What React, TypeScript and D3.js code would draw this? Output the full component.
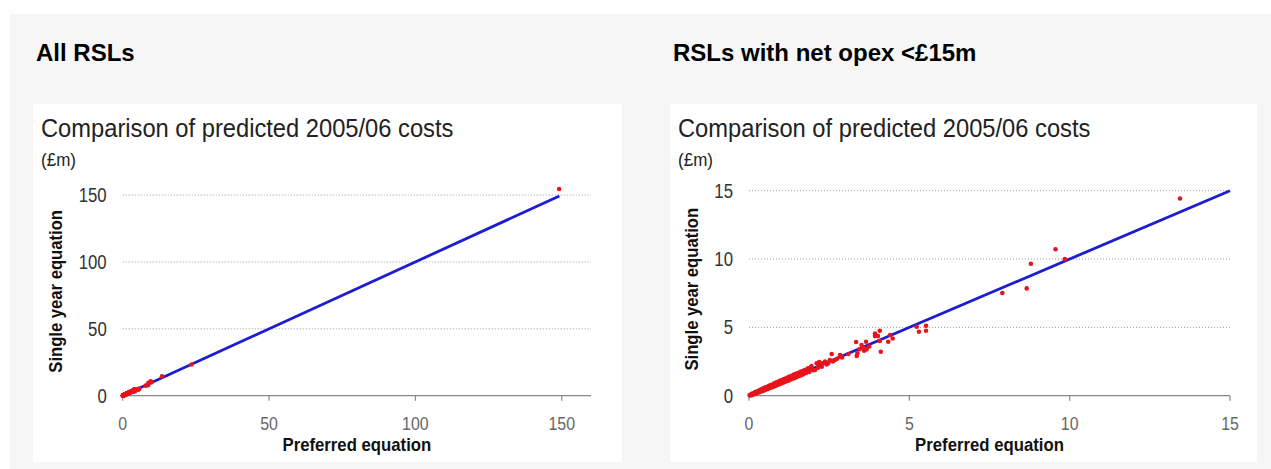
import React from "react";
import * as d3 from "d3";

// Predicted 2005/06 costs (£m) per RSL: preferred equation vs single year equation
const preferred = [
  0.02, 0.05, 0.08, 0.1, 0.12, 0.15, 0.18, 0.2, 0.22, 0.25, 0.27, 0.3, 0.32, 0.35, 0.37,
  0.4, 0.42, 0.45, 0.47, 0.5, 0.52, 0.55, 0.57, 0.6, 0.62, 0.65, 0.68, 0.7, 0.72, 0.75,
  0.78, 0.8, 0.83, 0.85, 0.88, 0.9, 0.93, 0.95, 0.98, 1.0, 1.03, 1.06, 1.08, 1.1, 1.13,
  1.16, 1.2, 1.23, 1.26, 1.3, 1.33, 1.36, 1.4, 1.43, 1.46, 1.5, 1.53, 1.56, 1.6, 1.63,
  1.67, 1.7, 1.74, 1.78, 1.82, 1.85, 1.88, 1.92, 1.95, 2.0, 2.06, 2.11, 2.15, 2.19, 2.21,
  2.27, 2.29, 2.37, 2.42, 2.47, 2.52, 2.58, 2.62, 2.68, 2.75, 2.84, 2.9, 3.1, 3.34, 3.36,
  3.38, 3.45, 3.51, 3.56, 3.59, 3.65, 3.67, 3.75, 3.93, 3.93, 4.02, 4.08, 4.08, 4.11, 4.34,
  4.4, 4.48, 5.23, 5.3, 5.52, 5.52, 7.9, 8.66, 8.79, 9.56, 9.85, 13.44, 23.5, 149.1,
];
const singleYear = [
  0.04, 0.02, 0.13, 0.06, 0.16, 0.1, 0.24, 0.14, 0.28, 0.19, 0.33, 0.24, 0.4, 0.29, 0.45,
  0.33, 0.5, 0.37, 0.56, 0.42, 0.62, 0.47, 0.66, 0.5, 0.72, 0.56, 0.78, 0.6, 0.8, 0.66,
  0.88, 0.7, 0.94, 0.75, 0.99, 0.8, 1.04, 0.85, 1.1, 0.9, 1.15, 0.95, 1.2, 1.0, 1.25,
  1.05, 1.33, 1.1, 1.4, 1.18, 1.45, 1.24, 1.55, 1.3, 1.6, 1.38, 1.66, 1.44, 1.74, 1.5,
  1.8, 1.58, 1.88, 1.66, 1.96, 2.0, 1.74, 2.06, 2.17, 1.86, 1.88, 2.37, 2.05, 2.46, 2.3,
  2.12, 2.37, 2.49, 2.28, 2.37, 2.6, 3.05, 2.5, 2.61, 2.7, 2.98, 2.8, 3.05, 3.93, 2.9,
  3.1, 3.4, 3.71, 3.54, 3.29, 3.95, 3.39, 3.6, 4.36, 4.55, 4.36, 4.75, 4.0, 3.22, 3.95,
  4.44, 4.19, 5.04, 4.68, 5.12, 4.75, 7.51, 7.85, 9.65, 10.72, 9.99, 14.43, 23.3, 154.5,
];

// Fitted line extents (£m) and axis ticks for each panel
const fitAll = [0, 149.2];
const fitSmall = [0, 15];
const ticksAll = [0, 50, 100, 150];
const ticksSmall = [0, 5, 10, 15];
const smallLimit = 15;

const headers = ["All RSLs", "RSLs with net opex <£15m"];
const chartTitle = "Comparison of predicted 2005/06 costs";
const unitLabel = "(£m)";
const xTitle = "Preferred equation";
const yTitle = "Single year equation";

const FONT = "'Liberation Sans', Arial, Helvetica, sans-serif";

// Text drawn slightly condensed, as the chart's narrow typeface
function NarrowText(props: {
  x: number;
  y: number;
  sx: number;
  size: number;
  anchor?: string;
  weight?: string;
  fill: string;
  rotate?: number;
  dy?: string;
  children: React.ReactNode;
}) {
  const rot = props.rotate ? ` rotate(${props.rotate})` : "";
  return (
    <text
      transform={`translate(${props.x},${props.y})${rot} scale(${props.sx},1)`}
      textAnchor={props.anchor || "start"}
      fontFamily={FONT}
      fontSize={props.size}
      fontWeight={props.weight || "normal"}
      fill={props.fill}
      dy={props.dy}
    >
      {props.children}
    </text>
  );
}

type PanelProps = {
  panelX: number;
  panelW: number;
  header: string;
  plotLeft: number;
  plotRight: number;
  xMax: number;
  yTop: number;
  ticks: number[];
  fit: number[];
  points: { x: number; y: number }[];
  yTitleX: number;
};

function Panel(p: PanelProps) {
  const y0 = 395.7;
  const x = d3.scaleLinear().domain([0, p.xMax]).range([p.plotLeft, p.plotRight]);
  const yMaxTick = p.ticks[p.ticks.length - 1];
  const y = d3.scaleLinear().domain([0, yMaxTick]).range([y0, p.yTop]);
  const line = d3
    .line<number>()
    .x((d) => x(d))
    .y((d) => y(d));
  const textLeft = p.panelX + 8;
  return (
    <g>
      <rect x={p.panelX} y={104} width={p.panelW} height={358} fill="#ffffff" />
      <text x={p.panelX + 3} y={60.5} fontFamily={FONT} fontWeight="bold" fontSize={24} fill="#000">
        {p.header}
      </text>
      <NarrowText x={textLeft} y={136.5} sx={0.93} size={25.5} fill="#222">
        {chartTitle}
      </NarrowText>
      <NarrowText x={textLeft} y={166} sx={0.92} size={18.5} fill="#222">
        {unitLabel}
      </NarrowText>
      {/* dotted gridlines */}
      {p.ticks
        .filter((t) => t > 0)
        .map((t) => (
          <line
            key={"g" + t}
            x1={p.plotLeft}
            x2={p.plotRight}
            y1={y(t)}
            y2={y(t)}
            stroke="#9a9a9a"
            strokeWidth={1}
            strokeDasharray="1,2"
          />
        ))}
      {/* y tick labels */}
      {p.ticks.map((t) => (
        <NarrowText
          key={"yl" + t}
          x={p.plotLeft - 16}
          y={y(t)}
          dy="0.36em"
          sx={0.86}
          size={19.5}
          anchor="end"
          fill="#333"
        >
          {t}
        </NarrowText>
      ))}
      {/* x axis */}
      <line x1={p.plotLeft} x2={p.plotRight} y1={y0} y2={y0} stroke="#888" strokeWidth={1.2} />
      {p.ticks.map((t) => (
        <g key={"xt" + t}>
          <line x1={x(t)} x2={x(t)} y1={y0} y2={y0 + 5} stroke="#888" strokeWidth={1.2} />
          <NarrowText x={x(t)} y={430} sx={0.86} size={18.5} anchor="middle" fill="#666">
            {t}
          </NarrowText>
        </g>
      ))}
      <NarrowText
        x={(p.plotLeft + p.plotRight) / 2}
        y={451}
        sx={0.93}
        size={18}
        anchor="middle"
        weight="bold"
        fill="#111"
      >
        {xTitle}
      </NarrowText>
      <NarrowText
        x={p.yTitleX}
        y={(y0 + p.yTop) / 2 - 4}
        rotate={-90}
        sx={0.9}
        size={18.5}
        anchor="middle"
        weight="bold"
        fill="#111"
      >
        {yTitle}
      </NarrowText>
      {/* fitted line */}
      <path d={line(p.fit) || ""} stroke="#1c1cd0" strokeWidth={2.8} fill="none" />
      {/* RSL points */}
      {p.points.map((d, i) => (
        <circle key={i} cx={x(d.x)} cy={y(d.y)} r={2.3} fill="#e8141c" />
      ))}
    </g>
  );
}

export default function App() {
  const all = preferred.map((v, i) => ({ x: v, y: singleYear[i] }));
  const small = all.filter((d) => d.x < smallLimit);
  return (
    <div style={{ position: "absolute", left: 0, top: 0 }}>
      <svg width={1271} height={469} style={{ display: "block" }}>
        <rect x={0} y={0} width={1271} height={469} fill="#ffffff" />
        <rect x={10} y={14} width={1261} height={455} fill="#f6f6f6" />
        <Panel
          panelX={33}
          panelW={589}
          header={headers[0]}
          plotLeft={122.7}
          plotRight={591}
          xMax={160}
          yTop={195}
          ticks={ticksAll}
          fit={fitAll}
          points={all}
          yTitleX={62}
        />
        <Panel
          panelX={670}
          panelW={587}
          header={headers[1]}
          plotLeft={749}
          plotRight={1230}
          xMax={15}
          yTop={190.7}
          ticks={ticksSmall}
          fit={fitSmall}
          points={small}
          yTitleX={698}
        />
      </svg>
    </div>
  );
}
